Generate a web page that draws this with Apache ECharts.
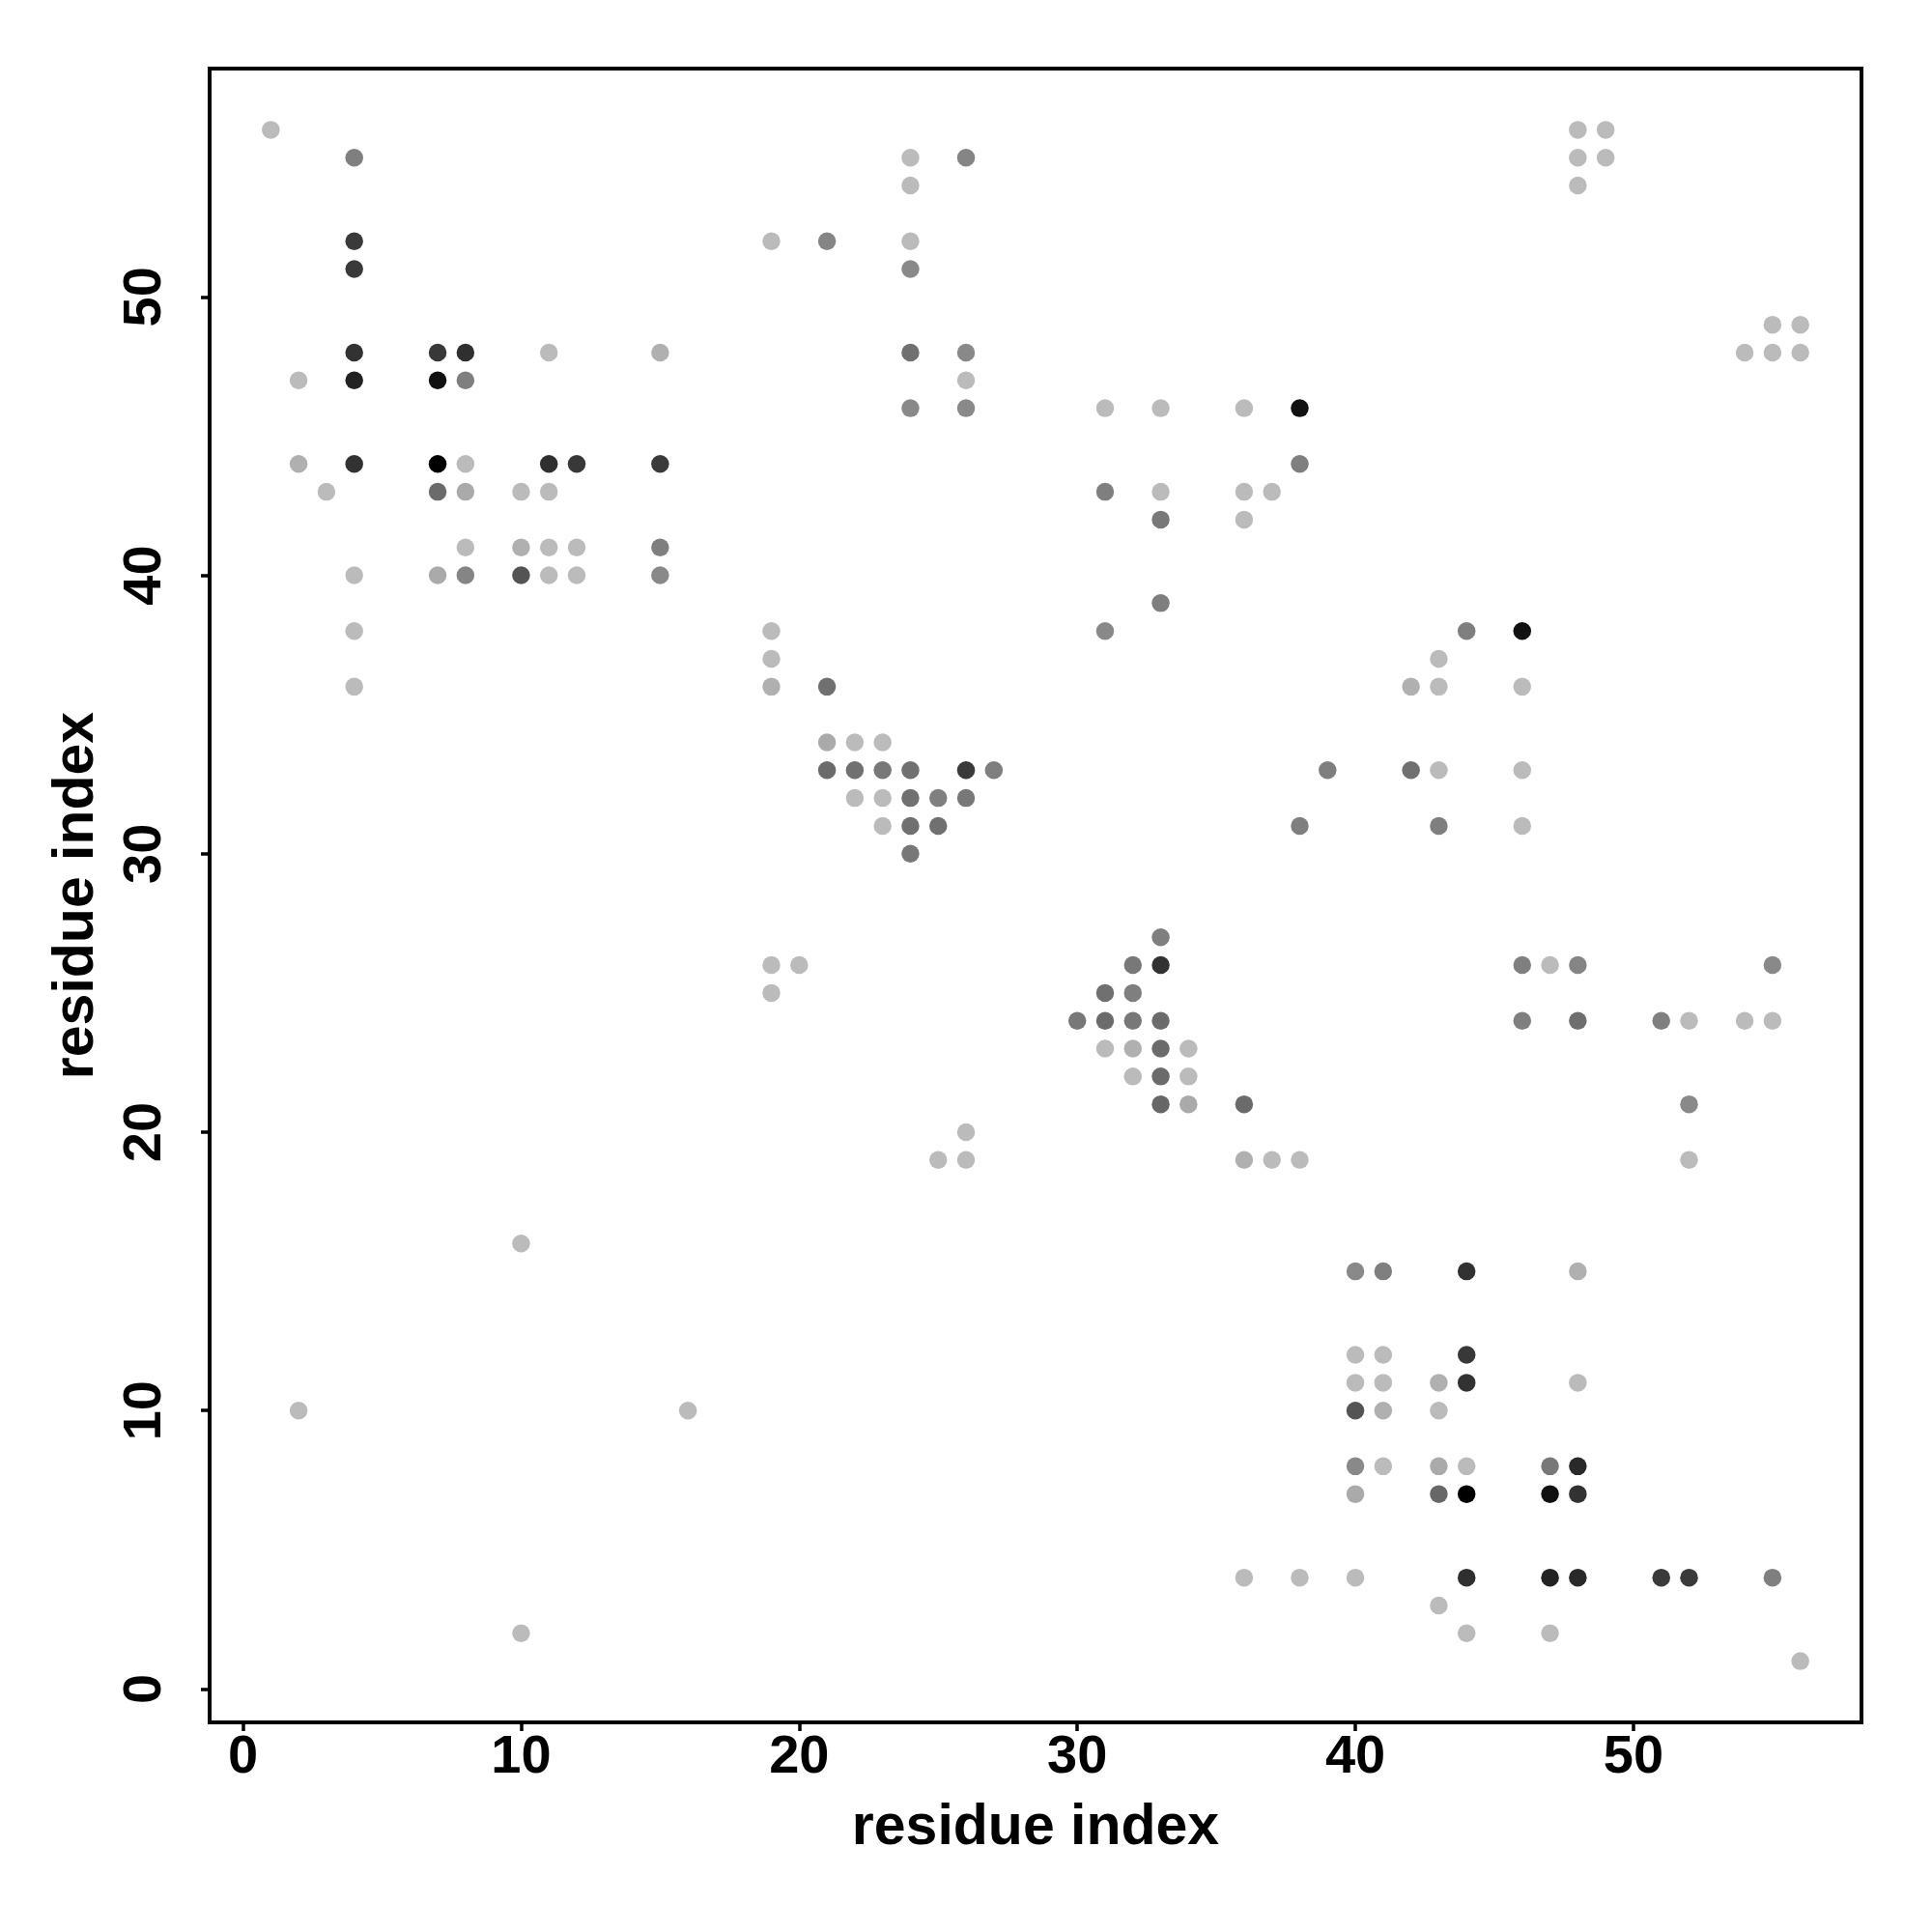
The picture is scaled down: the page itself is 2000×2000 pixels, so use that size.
<!DOCTYPE html>
<html>
<head>
<meta charset="utf-8">
<script src="https://cdn.jsdelivr.net/npm/echarts@6/dist/echarts.min.js"></script>
<style>
html,body{margin:0;padding:0;background:#fff;}
#chart{width:2000px;height:2000px;}
</style>
</head>
<body>
<div id="chart"></div>
<script>
// tick labels
const xTicks = [0, 10, 20, 30, 40, 50];
const yTicks = [0, 10, 20, 30, 40, 50];
const xTitle = 'residue index';
const yTitle = 'residue index';

// contacts: residue i (x), residue j (y), contact strength (0 = light gray, 1 = black)
const row56 = [[1,56,0],[48,56,0],[49,56,0]];
const row55 = [[4,55,0.32],[24,55,0],[26,55,0.29],[48,55,0],[49,55,0]];
const row54 = [[24,54,0],[48,54,0]];
const row52 = [[4,52,0.69],[19,52,0],[21,52,0.29],[24,52,0]];
const row51 = [[4,51,0.69],[24,51,0.27]];
const row49 = [[55,49,0],[56,49,0]];
const row48 = [[4,48,0.73],[7,48,0.70],[8,48,0.75],[11,48,0],[15,48,0.06],[24,48,0.40],[26,48,0.27],[54,48,0],[55,48,0],[56,48,0]];
const row47 = [[2,47,0],[4,47,0.82],[7,47,0.91],[8,47,0.32],[26,47,0]];
const row46 = [[24,46,0.27],[26,46,0.27],[31,46,0],[33,46,0],[36,46,0],[38,46,0.91]];
const row44 = [[2,44,0.06],[4,44,0.73],[7,44,1],[8,44,0],[11,44,0.75],[12,44,0.70],[15,44,0.69],[38,44,0.32]];
const row43 = [[3,43,0],[7,43,0.43],[8,43,0.09],[10,43,0],[11,43,0],[31,43,0.32],[33,43,0],[36,43,0],[37,43,0]];
const row42 = [[33,42,0.36],[36,42,0]];
const row41 = [[8,41,0],[10,41,0.06],[11,41,0],[12,41,0],[15,41,0.32]];
const row40 = [[4,40,0],[7,40,0.09],[8,40,0.29],[10,40,0.55],[11,40,0],[12,40,0],[15,40,0.27]];
const row39 = [[33,39,0.32]];
const row38 = [[4,38,0],[19,38,0],[31,38,0.27],[44,38,0.32],[46,38,0.91]];
const row37 = [[19,37,0],[43,37,0]];
const row36 = [[4,36,0],[19,36,0.06],[21,36,0.40],[42,36,0.06],[43,36,0],[46,36,0]];
const row34 = [[21,34,0.09],[22,34,0],[23,34,0]];
const row33 = [[21,33,0.43],[22,33,0.40],[23,33,0.36],[24,33,0.40],[26,33,0.69],[27,33,0.32],[39,33,0.32],[42,33,0.40],[43,33,0],[46,33,0]];
const row32 = [[22,32,0],[23,32,0],[24,32,0.40],[25,32,0.32],[26,32,0.36]];
const row31 = [[23,31,0],[24,31,0.40],[25,31,0.40],[38,31,0.32],[43,31,0.32],[46,31,0]];
const row30 = [[24,30,0.36]];
const row27 = [[33,27,0.32]];
const row26 = [[19,26,0],[20,26,0],[32,26,0.36],[33,26,0.73],[46,26,0.32],[47,26,0],[48,26,0.29],[55,26,0.27]];
const row25 = [[19,25,0],[31,25,0.40],[32,25,0.32]];
const row24 = [[30,24,0.36],[31,24,0.43],[32,24,0.36],[33,24,0.43],[46,24,0.32],[48,24,0.41],[51,24,0.32],[52,24,0],[54,24,0],[55,24,0]];
const row23 = [[31,23,0],[32,23,0.06],[33,23,0.43],[34,23,0]];
const row22 = [[32,22,0],[33,22,0.43],[34,22,0]];
const row21 = [[33,21,0.45],[34,21,0.09],[36,21,0.43],[52,21,0.27]];
const row20 = [[26,20,0]];
const row19 = [[25,19,0],[26,19,0],[36,19,0.06],[37,19,0],[38,19,0],[52,19,0]];
const row16 = [[10,16,0]];
const row15 = [[40,15,0.27],[41,15,0.32],[44,15,0.73],[48,15,0.06]];
const row12 = [[40,12,0],[41,12,0],[44,12,0.70]];
const row11 = [[40,11,0],[41,11,0],[43,11,0.06],[44,11,0.73],[48,11,0]];
const row10 = [[2,10,0],[16,10,0],[40,10,0.55],[41,10,0.06],[43,10,0]];
const row8  = [[40,8,0.27],[41,8,0],[43,8,0.09],[44,8,0],[47,8,0.36],[48,8,0.78]];
const row7  = [[40,7,0.09],[43,7,0.45],[44,7,1],[47,7,0.91],[48,7,0.73]];
const row4  = [[36,4,0],[38,4,0],[40,4,0],[44,4,0.75],[47,4,0.82],[48,4,0.78],[51,4,0.69],[52,4,0.69],[55,4,0.32]];
const row3  = [[43,3,0]];
const row2  = [[10,2,0],[44,2,0],[47,2,0]];
const row1  = [[56,1,0]];

const contacts = [].concat(row56,row55,row54,row52,row51,row49,row48,row47,row46,row44,row43,row42,row41,row40,
  row39,row38,row37,row36,row34,row33,row32,row31,row30,row27,row26,row25,row24,row23,row22,row21,row20,row19,
  row16,row15,row12,row11,row10,row8,row7,row4,row3,row2,row1);

const FONT = '"Liberation Sans", Arial, Helvetica, sans-serif';

const chart = echarts.init(document.getElementById('chart'), null, {renderer: 'canvas'});
chart.setOption({
  animation: false,
  backgroundColor: '#ffffff',
  grid: {
    left: 217, top: 71, width: 1710, height: 1712,
    show: true, borderColor: '#000', borderWidth: 4, backgroundColor: 'transparent',
    containLabel: false, outerBoundsMode: 'none'
  },
  visualMap: {
    show: false, type: 'continuous', dimension: 2, min: 0, max: 1,
    inRange: { color: ['#bbbbbb', '#000000'] }
  },
  xAxis: {
    type: 'value', min: -1.2, max: 58.2, position: 'bottom',
    name: xTitle, nameLocation: 'middle', nameGap: 80,
    nameTextStyle: { fontFamily: FONT, fontWeight: 'bold', fontSize: 59, color: '#000' },
    axisLine: { show: false, onZero: false },
    splitLine: { show: false },
    axisTick: { show: true, inside: false, length: 9, customValues: xTicks, lineStyle: { color: '#000', width: 3.5 } },
    axisLabel: { customValues: xTicks, margin: 9, fontFamily: FONT, fontWeight: 'bold', fontSize: 56, color: '#000' }
  },
  yAxis: {
    type: 'value', min: -1.2, max: 58.2, position: 'left',
    name: yTitle, nameLocation: 'middle', nameGap: 108,
    nameTextStyle: { fontFamily: FONT, fontWeight: 'bold', fontSize: 59, color: '#000' },
    axisLine: { show: false, onZero: false },
    splitLine: { show: false },
    axisTick: { show: true, inside: false, length: 9, customValues: yTicks, lineStyle: { color: '#000', width: 3.5 } },
    axisLabel: { customValues: yTicks, rotate: 90, margin: 38, fontFamily: FONT, fontWeight: 'bold', fontSize: 56, color: '#000' }
  },
  series: [{
    type: 'scatter',
    data: contacts,
    symbol: 'circle',
    symbolSize: 18.5,
    itemStyle: { opacity: 1, borderWidth: 0 }
  }]
});
</script>
</body>
</html>
